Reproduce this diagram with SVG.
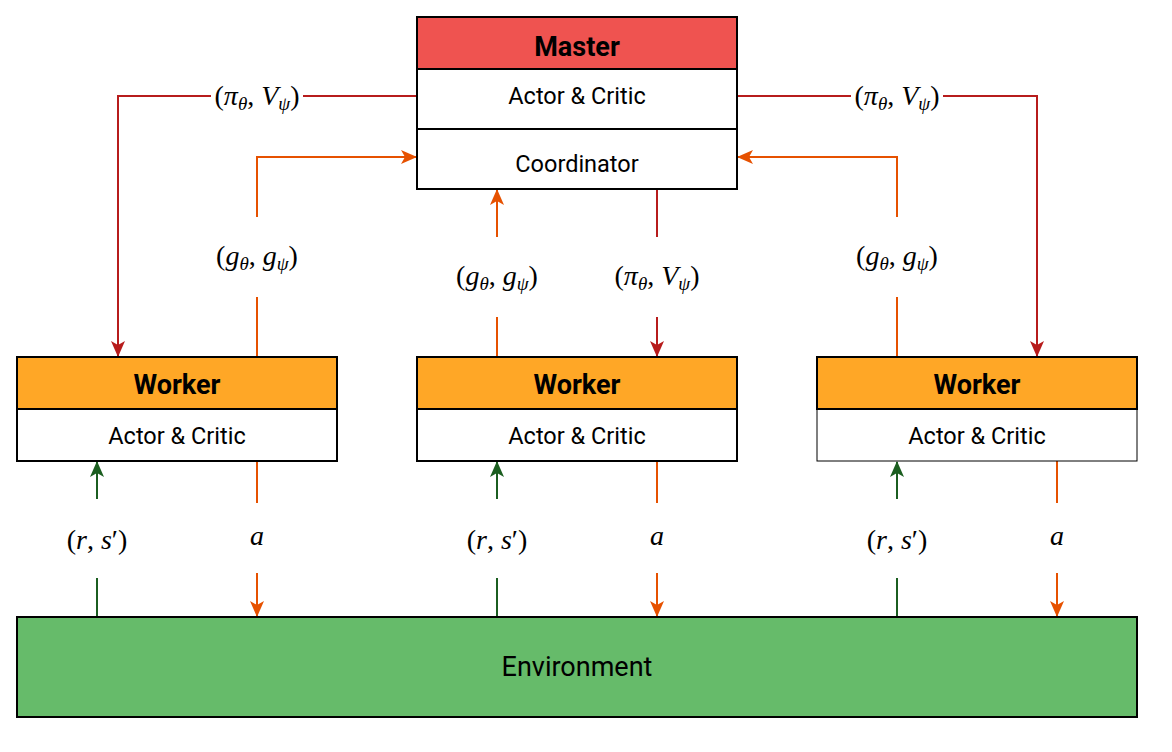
<svg xmlns="http://www.w3.org/2000/svg" width="1172" height="752" viewBox="0 0 1172 752">
<defs>
<marker id="aRed" viewBox="0 0 16 16" refX="15" refY="8" markerWidth="16" markerHeight="16" orient="auto" markerUnits="userSpaceOnUse"><path d="M0,1 L16,8 L0,15 L4,8 Z" fill="#B71C1C"/></marker>
<marker id="aOr" viewBox="0 0 16 16" refX="15" refY="8" markerWidth="16" markerHeight="16" orient="auto" markerUnits="userSpaceOnUse"><path d="M0,1 L16,8 L0,15 L4,8 Z" fill="#E65100"/></marker>
<marker id="aGr" viewBox="0 0 16 16" refX="15" refY="8" markerWidth="16" markerHeight="16" orient="auto" markerUnits="userSpaceOnUse"><path d="M0,1 L16,8 L0,15 L4,8 Z" fill="#1B5E20"/></marker>
</defs>
<style>
.box{stroke:#000;stroke-width:2}
.hdr{font-family:Roboto,"Liberation Sans",sans-serif;font-weight:bold;font-size:27px;fill:#000;text-anchor:middle}
.txt{font-family:Roboto,"Liberation Sans",sans-serif;font-size:23.5px;fill:#000;text-anchor:middle}
.m{font-family:"Liberation Serif","DejaVu Serif",serif;font-size:28px;fill:#000;text-anchor:middle}
.i{font-style:italic}
.s{font-size:19px;font-style:italic}
.red{stroke:#B71C1C;stroke-width:2;fill:none}
.or{stroke:#E65100;stroke-width:2;fill:none}
.gr{stroke:#1B5E20;stroke-width:2;fill:none}
</style>
<rect width="1172" height="752" fill="#fff"/>
<g id="connectors">
<path class="red" d="M417,96 H303"/>
<path class="red" d="M211,96 H118 V356" marker-end="url(#aRed)"/>
<path class="red" d="M737,96 H851"/>
<path class="red" d="M943,96 H1037 V356" marker-end="url(#aRed)"/>
<path class="or" d="M257,357 V297"/>
<path class="or" d="M257,217 V157 H416" marker-end="url(#aOr)"/>
<path class="or" d="M897,357 V297"/>
<path class="or" d="M897,217 V157 H738" marker-end="url(#aOr)"/>
<path class="or" d="M497,357 V317"/>
<path class="or" d="M497,237 V190" marker-end="url(#aOr)"/>
<path class="red" d="M657,189 V237"/>
<path class="red" d="M657,317 V356" marker-end="url(#aRed)"/>
<path class="gr" d="M97,617 V578"/><path class="gr" d="M97,499 V462" marker-end="url(#aGr)"/>
<path class="gr" d="M497,617 V578"/><path class="gr" d="M497,499 V462" marker-end="url(#aGr)"/>
<path class="gr" d="M897,617 V578"/><path class="gr" d="M897,499 V462" marker-end="url(#aGr)"/>
<path class="or" d="M257,461 V503"/><path class="or" d="M257,573 V616" marker-end="url(#aOr)"/>
<path class="or" d="M657,461 V503"/><path class="or" d="M657,573 V616" marker-end="url(#aOr)"/>
<path class="or" d="M1057,461 V503"/><path class="or" d="M1057,573 V616" marker-end="url(#aOr)"/>
<text class="m" x="257" y="105">(<tspan class="i">π</tspan><tspan class="s" dy="5">θ</tspan><tspan dy="-5">,  </tspan><tspan class="i">V</tspan><tspan class="s" dy="5">ψ</tspan><tspan dy="-5">)</tspan></text>
<text class="m" x="897" y="105">(<tspan class="i">π</tspan><tspan class="s" dy="5">θ</tspan><tspan dy="-5">,  </tspan><tspan class="i">V</tspan><tspan class="s" dy="5">ψ</tspan><tspan dy="-5">)</tspan></text>
<text class="m" x="657" y="285">(<tspan class="i">π</tspan><tspan class="s" dy="5">θ</tspan><tspan dy="-5">,  </tspan><tspan class="i">V</tspan><tspan class="s" dy="5">ψ</tspan><tspan dy="-5">)</tspan></text>
<text class="m" x="257" y="265">(<tspan class="i">g</tspan><tspan class="s" dy="5">θ</tspan><tspan dy="-5">,  </tspan><tspan class="i">g</tspan><tspan class="s" dy="5">ψ</tspan><tspan dy="-5">)</tspan></text>
<text class="m" x="497" y="285">(<tspan class="i">g</tspan><tspan class="s" dy="5">θ</tspan><tspan dy="-5">,  </tspan><tspan class="i">g</tspan><tspan class="s" dy="5">ψ</tspan><tspan dy="-5">)</tspan></text>
<text class="m" x="897" y="265">(<tspan class="i">g</tspan><tspan class="s" dy="5">θ</tspan><tspan dy="-5">,  </tspan><tspan class="i">g</tspan><tspan class="s" dy="5">ψ</tspan><tspan dy="-5">)</tspan></text>
<text class="m" x="97" y="549">(<tspan class="i">r</tspan>,  <tspan class="i">s</tspan>′)</text>
<text class="m" x="497" y="549">(<tspan class="i">r</tspan>,  <tspan class="i">s</tspan>′)</text>
<text class="m" x="897" y="549">(<tspan class="i">r</tspan>,  <tspan class="i">s</tspan>′)</text>
<text class="m i" x="257" y="545">a</text>
<text class="m i" x="657" y="545">a</text>
<text class="m i" x="1057" y="545">a</text>
</g>
<g id="master">
<rect class="box" x="417" y="17" width="320" height="52" fill="#EF5350"/>
<rect class="box" x="417" y="69" width="320" height="60" fill="#fff"/>
<rect class="box" x="417" y="129" width="320" height="60" fill="#fff"/>
<text class="hdr" x="577" y="56">Master</text>
<text class="txt" x="577" y="104">Actor &amp; Critic</text>
<text class="txt" x="577" y="172">Coordinator</text>
</g>
<g id="worker1">
<rect class="box" x="17" y="357" width="320" height="52" fill="#FFA726"/>
<rect class="box" x="17" y="409" width="320" height="52" fill="#fff"/>
<text class="hdr" x="177" y="394">Worker</text>
<text class="txt" x="177" y="444">Actor &amp; Critic</text>
</g>
<g id="worker2">
<rect class="box" x="417" y="357" width="320" height="52" fill="#FFA726"/>
<rect class="box" x="417" y="409" width="320" height="52" fill="#fff"/>
<text class="hdr" x="577" y="394">Worker</text>
<text class="txt" x="577" y="444">Actor &amp; Critic</text>
</g>
<g id="worker3">
<rect x="817" y="409" width="320" height="52" fill="#fff" stroke="#000" stroke-width="1"/>
<rect class="box" x="817" y="357" width="320" height="52" fill="#FFA726"/>
<text class="hdr" x="977" y="394">Worker</text>
<text class="txt" x="977" y="444">Actor &amp; Critic</text>
</g>
<g id="environment">
<rect class="box" x="17" y="617" width="1120" height="100" fill="#66BB6A"/>
<text class="txt" x="577" y="676" style="font-size:27px">Environment</text>
</g>
</svg>
